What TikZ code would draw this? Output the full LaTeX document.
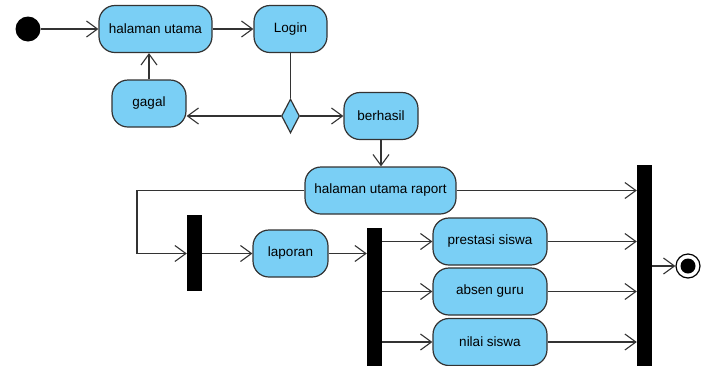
\documentclass[tikz,border=0pt]{standalone}
\usepackage{fontspec}
\setmainfont{Liberation Sans}
\usetikzlibrary{arrows.meta,shapes.geometric}
\definecolor{actfill}{HTML}{7ACFF5}
\definecolor{actline}{HTML}{333333}
\begin{document}
\begin{tikzpicture}[x=1pt,y=-1pt,
  act/.style={draw=actline,line width=1.2pt,fill=actfill,rounded corners=16pt,minimum height=47pt,inner sep=0pt,font=\fontsize{13.5}{16}\selectfont},
  bar/.style={fill=black,draw=none,minimum width=15pt,inner sep=0pt},
  arr/.style={draw=actline,line width=1.1pt,-{Straight Barb[length=11pt,width=16pt,line width=1.1pt]}},
  ln/.style={draw=actline,line width=1.1pt},
  dec/.style={diamond,draw=actline,line width=1.2pt,fill=actfill,minimum width=18pt,minimum height=34pt,inner sep=0pt,aspect=0.5}]
\useasboundingbox (0,0) rectangle (712,365);
\node[circle,fill=black,minimum size=25pt,inner sep=0pt] (start) at (28,29) {};
\node[act,minimum width=113pt] (hu) at (155.5,29) {halaman utama};
\node[act,minimum width=73pt] (login) at (290.5,29) {Login};
\node[act,minimum width=74pt] (gagal) at (149,103.5) {gagal};
\node[dec] (d) at (290.5,116) {};
\node[act,minimum width=74pt] (berhasil) at (381,116) {berhasil};
\node[act,minimum width=151pt] (hur) at (380.5,190.5) {halaman utama raport};
\node[bar,minimum height=76pt] (bar1) at (194.5,253) {};
\node[act,minimum width=75pt] (lap) at (290.5,253.5) {laporan};
\node[bar,minimum height=150pt] (bar2) at (374.5,303) {};
\node[act,minimum width=114pt] (pres) at (490,241.5) {prestasi siswa};
\node[act,minimum width=114pt] (absen) at (490,291.5) {absen guru};
\node[act,minimum width=114pt] (nilai) at (490,342) {nilai siswa};
\node[bar,minimum height=215pt] (bar3) at (644.5,272.5) {};
\node[circle,draw=black,line width=1.2pt,fill=white,minimum size=24pt,inner sep=0pt] (fin) at (688,266) {};
\node[circle,fill=black,minimum size=15pt,inner sep=0pt] (finin) at (fin) {};
\coordinate (k) at (137,190.5);
\draw[arr] (start) -- (hu);
\draw[arr] (hu) -- (login);
\draw[ln] (login) -- (d.north);
\draw[arr] (d.west) -- (d.west -| gagal.east);
\draw[arr] (d) -- (berhasil);
\draw[arr] (gagal) -- (gagal |- hu.south);
\draw[arr] (berhasil) -- (berhasil |- hur.north);
\draw[arr] (hur.west) -- (k) |- (bar1.west |- lap);
\draw[arr] (bar1.east |- lap) -- (lap);
\draw[arr] (lap) -- (lap -| bar2.west);
\draw[arr] (bar2.east |- pres) -- (pres);
\draw[arr] (bar2.east |- absen) -- (absen);
\draw[arr] (bar2.east |- nilai) -- (nilai);
\draw[arr] (hur) -- (hur -| bar3.west);
\draw[arr] (pres) -- (pres -| bar3.west);
\draw[arr] (absen) -- (absen -| bar3.west);
\draw[arr] (nilai) -- (nilai -| bar3.west);
\draw[arr] (bar3.east |- fin) -- (fin);
\end{tikzpicture}
\end{document}
